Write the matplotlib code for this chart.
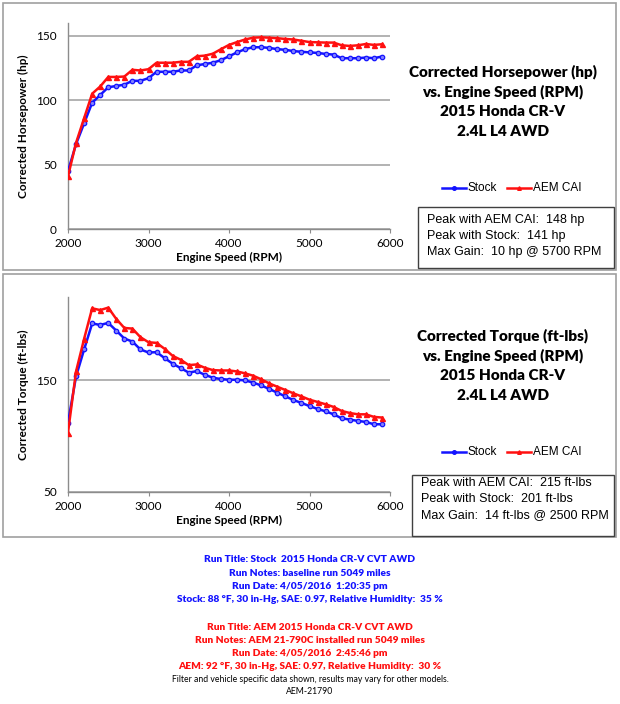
import matplotlib
matplotlib.use("Agg")
import matplotlib.pyplot as plt
from matplotlib.patches import Rectangle
from matplotlib.lines import Line2D

rpm = list(range(2000, 6000, 100))

hp_stock = [45, 66, 82, 98, 104, 110, 111, 112, 115, 115,
            117, 122, 122, 122, 123, 123, 127, 128, 129, 131,
            134, 137, 139.5, 141, 141, 140.5, 139.5, 139, 138, 137.5,
            137, 136.6, 135.8, 135.3, 132.5, 132.5, 132.5, 133, 132.5, 133.8]
hp_aem = [41, 67, 86, 105, 110.6, 118, 118, 118.3, 123.5, 123,
          124, 129, 129, 129, 129.7, 129.7, 134, 134.5, 136, 139.5,
          142.8, 145, 147, 148.4, 148.7, 148.4, 148, 147.4, 147, 146,
          145, 144.8, 144.6, 144.6, 142.5, 142, 142.5, 143.5, 142.8, 143.3]

tq_stock = [112, 153.6, 177.7, 201, 199.7, 201.5, 194.6, 187.5, 184.8, 177.7,
            175, 175.3, 170, 165, 161, 157, 158.3, 155, 152.4, 151.2,
            150.6, 150.6, 150, 148, 145.5, 142.3, 139, 135.7, 132.4, 129.8,
            127, 124.4, 122.3, 119.6, 116, 114.9, 113.7, 112.8, 110.7, 110.7]
tq_aem = [103.3, 158, 187.2, 214.6, 213, 215.2, 205, 197, 196.4, 188.7,
          184.2, 183.6, 178.3, 172, 168.5, 163.7, 164.3, 161.3, 159.2, 158.9,
          158.9, 158, 156.3, 154.2, 151, 147.3, 144.3, 141.4, 138.4, 135.7,
          132.7, 130.7, 128.6, 126.2, 122.6, 120.8, 119.6, 119.6, 117.3, 116.7]

hp_ticks = [0, 50, 100, 150]
tq_ticks = [50, 150]
x_ticks = [2000, 3000, 4000, 5000, 6000]

hp_title = ["Corrected Horsepower (hp)", "vs. Engine Speed (RPM)", "2015 Honda CR-V", "2.4L L4 AWD"]
tq_title = ["Corrected Torque (ft-lbs)", "vs. Engine Speed (RPM)", "2015 Honda CR-V", "2.4L L4 AWD"]
hp_box = ["Peak with AEM CAI:  148 hp", "Peak with Stock:  141 hp", "Max Gain:  10 hp @ 5700 RPM"]
tq_box = ["Peak with AEM CAI:  215 ft-lbs", "Peak with Stock:  201 ft-lbs", "Max Gain:  14 ft-lbs @ 2500 RPM"]
stock_notes = ["Run Title: Stock  2015 Honda CR-V CVT AWD", "Run Notes: baseline run 5049 miles",
               "Run Date: 4/05/2016  1:20:35 pm",
               "Stock: 88 \u00b0F, 30 in-Hg, SAE: 0.97, Relative Humidity:  35 %"]
aem_notes = ["Run Title: AEM 2015 Honda CR-V CVT AWD", "Run Notes: AEM 21-790C installed run 5049 miles",
             "Run Date: 4/05/2016  2:45:46 pm",
             "AEM: 92 \u00b0F, 30 in-Hg, SAE: 0.97, Relative Humidity:  30 %"]
footer = ["Filter and vehicle specific data shown, results may vary for other models.", "AEM-21790"]

W, H = 620, 704
fig = plt.figure(figsize=(W / 100, H / 100), dpi=100)
CH = "Lato"
BOXF = "Liberation Sans"
BLUE = "#1414ff"
RED = "#ff1010"


def fx(px):
    return px / W


def fy(py):
    return 1 - py / H


# panel borders
for (x0, y0, x1, y1) in [(3, 3, 616, 270), (3, 274, 616, 537)]:
    fig.patches.append(Rectangle((fx(x0), fy(y1)), fx(x1) - fx(x0), fy(y0) - fy(y1),
                                 transform=fig.transFigure, fill=False, ec="#a0a0a0", lw=1.2))


def make_axes(top, bottom, ylim, yticks, ys, ya, ylabel):
    ax = fig.add_axes([fx(68), fy(bottom), fx(390) - fx(68), fy(top) - fy(bottom)])
    ax.set_xlim(2000, 6000)
    ax.set_ylim(*ylim)
    ax.set_xticks(x_ticks)
    ax.set_yticks(yticks)
    ax.grid(axis="y", color="#a6a6a6", lw=1.2)
    ax.set_axisbelow(True)
    for s in ["top", "right"]:
        ax.spines[s].set_visible(False)
    for s in ["left", "bottom"]:
        ax.spines[s].set_color("#8c8c8c")
        ax.spines[s].set_linewidth(1.0)
    ax.tick_params(axis="both", colors="#8c8c8c", labelcolor="black", labelsize=8.5, length=3)
    ax.tick_params(axis="y", length=0, pad=8)
    for t in ax.get_xticklabels() + ax.get_yticklabels():
        t.set_family(CH)
    ax.plot(rpm, ys, color=BLUE, lw=1.8, marker="o", ms=3.2, mfc="#8080ff", mec=BLUE, mew=0.9, zorder=3)
    ax.plot(rpm, ya, color=RED, lw=1.8, marker="^", ms=3.6, mfc=RED, mec=RED, zorder=4)
    ax.set_xlabel("Engine Speed (RPM)", family=CH, fontweight="bold", fontsize=8.5, labelpad=2)
    ax.set_ylabel(ylabel, family=CH, fontweight="bold", fontsize=8.5, labelpad=5)
    return ax


make_axes(22.7, 229.3, (0, 160), hp_ticks, hp_stock, hp_aem, "Corrected Horsepower (hp)")
make_axes(296.7, 492, (50, 225), tq_ticks, tq_stock, tq_aem, "Corrected Torque (ft-lbs)")

# titles
for lines, y0 in [(hp_title, 72), (tq_title, 336)]:
    for i, t in enumerate(lines):
        fig.text(fx(503), fy(y0 + 20 * i), t, ha="center", va="center",
                 family=CH, fontweight="heavy", fontsize=11)

# legends
for ly in [188, 452]:
    for x0, col, mk, lab in [(442, BLUE, "o", "Stock"), (507, RED, "^", "AEM CAI")]:
        fig.add_artist(Line2D([fx(x0), fx(x0 + 24)], [fy(ly), fy(ly)], color=col, lw=1.8,
                              transform=fig.transFigure))
        fig.add_artist(Line2D([fx(x0 + 12)], [fy(ly)], color=col, marker=mk, ms=2.6,
                              transform=fig.transFigure))
        fig.text(fx(x0 + 26), fy(ly), lab, ha="left", va="center", family=BOXF, fontsize=8.5)

# boxes
for (x0, y0, x1, y1), lines, ty in [((418, 207, 614, 268), hp_box, 220),
                                     ((412, 475, 614, 536), tq_box, 483)]:
    fig.patches.append(Rectangle((fx(x0), fy(y1)), fx(x1) - fx(x0), fy(y0) - fy(y1),
                                 transform=fig.transFigure, fill=False, ec="#404040", lw=1.0))
    for i, t in enumerate(lines):
        fig.text(fx(x0 + 9), fy(ty + 16 * i), t, ha="left", va="center", family=BOXF, fontsize=9)

# notes
for i, t in enumerate(stock_notes):
    fig.text(fx(310), fy(560 + 13.3 * i), t, ha="center", va="center", color=BLUE,
             family=CH, fontweight="heavy", fontsize=7.3)
for i, t in enumerate(aem_notes):
    fig.text(fx(310), fy(627 + 13.3 * i), t, ha="center", va="center", color=RED,
             family=CH, fontweight="heavy", fontsize=7.3)
for i, t in enumerate(footer):
    fig.text(fx(310), fy(679 + 12 * i), t, ha="center", va="center", color="black",
             family=CH, fontsize=6.2)

fig.savefig("out.png", dpi=100)
